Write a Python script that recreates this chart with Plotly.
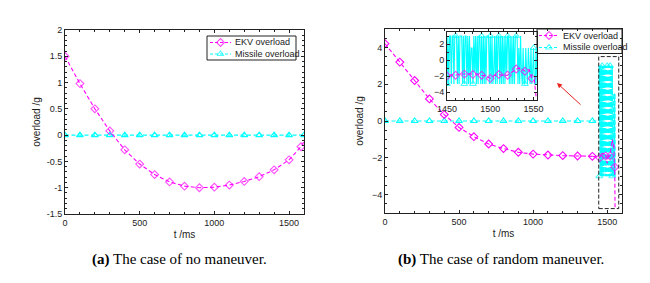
import plotly.graph_objects as go

# ---------------- data ----------------
# (a) no maneuver
a_ekv_t = [0, 100, 200, 300, 400, 500, 600, 700, 800, 900, 1000, 1100, 1200, 1300, 1400, 1500, 1580, 1600]
a_ekv_v = [1.5, 0.98, 0.5, 0.08, -0.28, -0.55, -0.75, -0.89, -0.97, -1.0, -0.99, -0.95, -0.88, -0.79, -0.66, -0.47, -0.22, -0.12]
a_mis_t = [0, 100, 200, 300, 400, 500, 600, 700, 800, 900, 1000, 1100, 1200, 1300, 1400, 1500, 1600]
a_mis_v = [0] * 17

# (b) random maneuver, smooth part
b_ekv_t = [0, 100, 200, 300, 400, 500, 600, 700, 800, 900, 1000, 1100, 1200, 1300, 1400]
b_ekv_v = [4.2, 3.2, 2.2, 1.2, 0.35, -0.35, -0.85, -1.25, -1.5, -1.7, -1.8, -1.85, -1.88, -1.9, -1.92]
b_mis_t = [0, 100, 200, 300, 400, 500, 600, 700, 800, 900, 1000, 1100, 1200, 1300, 1400]
b_mis_v = [0] * 15

# (b) end game part
e_ekv_t = [1400, 1450, 1455, 1460, 1465, 1470, 1475, 1480, 1485, 1490, 1495, 1500, 1505, 1510,
           1515, 1520, 1525, 1530, 1535, 1540, 1545, 1548, 1551, 1553]
e_ekv_v = [-1.92, -2.0, -1.85, -1.9, -1.75, -1.76, -1.8, -1.8, -1.75, -1.9, -2.0, -2.3, -1.9, -1.8,
           -1.95, -1.9, -1.5, -1.13, -1.0, -1.4, -1.2, -2.3, -2.5, -4.7]
e_mis_t = [1400] + list(range(1445, 1555))
e_mis_v = [0,
           0, 3, -3, 3, -3, -3, 3, -3, 3, 3,
           -3, 3, 3, -3, 3, 3, 3, -3, 3, -3,
           3, 3, 3, -3, 3, -3, 3, 3, -3, 3,
           -3, 3, -3, 1.5, 1.5, -3, 3, -1.5, 3, -3,
           3, -3, 3, 3, -3, 3, -3, 3, -3, 3,
           -3, 3, 3, 3, -3, 3, -3, 3, -3, -1.5,
           3, -3, 3, -3, 3, 3, -3, 3, -3, 3,
           -3, 3, -3, 3, -1.5, 3, 3, -3, 3, -3,
           3, -3, 3, -3, 3, 3, 3, -3, 1.5, -3,
           3, -1.5, -3, 1.5, -3, -3, 1.5, -1.5, -3, 1.5,
           -1.5, -3, 1.5, -3, -1.5, 1.5, -3, -3, 1.5, -3]

legend_names = ["EKV overload", "Missile overload"]
captions = ["<b>(a)</b> The case of no maneuver.", "<b>(b)</b> The case of random maneuver."]

# ---------------- style ----------------
MAG = "#FF00FF"
CYA = "#00FFFF"
DASH = "4px,2.5px"
INK = "#222"
TICKFONT = dict(family="Liberation Sans, Arial", size=9, color=INK)
TITLEFONT = dict(family="Liberation Sans, Arial", size=10, color=INK)
MS = 6

W, H = 650, 283
def px(x):
    return x / W
def py(y):
    return 1 - y / H

fig = go.Figure()

def mk(symbol, color, size):
    return dict(symbol=symbol, size=size, color=color, line=dict(color=color, width=1.1))

LINE_M = dict(color=MAG, dash=DASH, width=1.1)
LINE_C = dict(color=CYA, dash=DASH, width=1.1)

# ---- (a)
fig.add_trace(go.Scatter(x=a_mis_t, y=a_mis_v, mode="lines+markers", xaxis="x", yaxis="y",
                         line=LINE_C, marker=mk("triangle-up-open", CYA, MS)))
a_sizes = [MS] * (len(a_ekv_t) - 1) + [0]
fig.add_trace(go.Scatter(x=a_ekv_t, y=a_ekv_v, mode="lines+markers", xaxis="x", yaxis="y",
                         line=LINE_M, marker=mk("diamond-open", MAG, a_sizes)))

# ---- (b) main
fig.add_trace(go.Scatter(x=b_mis_t, y=b_mis_v, mode="lines+markers", xaxis="x2", yaxis="y2",
                         line=LINE_C, marker=mk("triangle-up-open", CYA, MS)))
main_mis_mark = {1447: MS, 1466: MS, 1500: MS, 1520: MS, 1534: MS}
fig.add_trace(go.Scatter(x=e_mis_t, y=e_mis_v, mode="lines+markers", xaxis="x2", yaxis="y2",
                         line=LINE_C,
                         marker=mk("triangle-up-open", CYA, [main_mis_mark.get(t, 0) for t in e_mis_t])))
fig.add_trace(go.Scatter(x=b_ekv_t, y=b_ekv_v, mode="lines+markers", xaxis="x2", yaxis="y2",
                         line=LINE_M, marker=mk("diamond-open", MAG, MS)))
main_ekv_mark = {1450: MS, 1490: MS, 1520: MS, 1551: MS}
fig.add_trace(go.Scatter(x=e_ekv_t, y=e_ekv_v, mode="lines+markers", xaxis="x2", yaxis="y2",
                         line=LINE_M,
                         marker=mk("diamond-open", MAG, [main_ekv_mark.get(t, 0) for t in e_ekv_t])))

# ---- (b) inset
ins_mis_mark = {t: MS for t in [1450, 1460, 1470, 1480, 1490, 1500, 1510, 1520, 1530, 1540, 1550]}
fig.add_trace(go.Scatter(x=e_mis_t, y=e_mis_v, mode="lines+markers", xaxis="x3", yaxis="y3",
                         line=dict(color=CYA, width=1.1),
                         marker=mk("triangle-up-open", CYA, [ins_mis_mark.get(t, 0) for t in e_mis_t])))
ins_ekv_mark = {t: MS for t in [1450, 1460, 1470, 1480, 1490, 1500, 1510, 1520, 1530, 1540, 1548]}
fig.add_trace(go.Scatter(x=e_ekv_t, y=e_ekv_v, mode="lines+markers", xaxis="x3", yaxis="y3",
                         line=LINE_M,
                         marker=mk("diamond-open", MAG, [ins_ekv_mark.get(t, 0) for t in e_ekv_t])))

# ---- hand-built legends (overlay axis in pixel units)
legends = [
    dict(bx=(207, 296), by=(36, 60), sx=(210, 231), tx=233, rows=(42.5, 54)),
    dict(bx=(537, 622), by=(29, 53.5), sx=(539, 559), tx=561, rows=(35.5, 47.5)),
]
shapes = []
annotations = []
for lg in legends:
    shapes.append(dict(type="rect", xref="paper", yref="paper",
                       x0=px(lg["bx"][0]), x1=px(lg["bx"][1]), y0=py(lg["by"][1]), y1=py(lg["by"][0]),
                       line=dict(color=INK, width=1), fillcolor="white", layer="below"))
    for name, ry, col, sym in zip(legend_names, lg["rows"], [MAG, CYA],
                                  ["diamond-open", "triangle-up-open"]):
        x0, x1 = lg["sx"]
        fig.add_trace(go.Scatter(x=[x0, (x0 + x1) / 2, x1], y=[ry, ry, ry], mode="lines+markers",
                                 xaxis="x4", yaxis="y4",
                                 line=dict(color=col, width=1.1, dash="3px,2px"),
                                 marker=mk(sym, col, [0, MS, 0]), hoverinfo="skip"))
        annotations.append(dict(x=px(lg["tx"]), y=py(ry), xref="paper", yref="paper",
                                xanchor="left", yanchor="middle", showarrow=False, text=name,
                                font=dict(family="Liberation Sans, Arial", size=9, color=INK)))

axcommon = dict(showline=True, linecolor=INK, linewidth=1, mirror="allticks", ticks="inside",
                ticklen=3, tickcolor=INK, tickfont=TICKFONT, showgrid=False, zeroline=False)

shapes.append(dict(type="rect", xref="x2", yref="y2", x0=1443, x1=1578, y0=-4.76, y1=3.5,
                   line=dict(color=INK, width=1, dash="4px,2px"), fillcolor="rgba(0,0,0,0)"))

annotations += [
    dict(x=px(557), y=py(83), xref="paper", yref="paper", ax=25, ay=23, text="",
         showarrow=True, arrowhead=2, arrowsize=1, arrowwidth=1, arrowcolor="#E8231E"),
    dict(x=px(179), y=py(259), xref="paper", yref="paper", showarrow=False,
         xanchor="center", yanchor="middle", text=captions[0],
         font=dict(family="Liberation Serif, Times New Roman", size=15, color="black")),
    dict(x=px(501), y=py(259), xref="paper", yref="paper", showarrow=False,
         xanchor="center", yanchor="middle", text=captions[1],
         font=dict(family="Liberation Serif, Times New Roman", size=15, color="black")),
]

fig.update_layout(
    width=W, height=H, autosize=False, showlegend=False,
    margin=dict(l=0, r=0, t=0, b=0, pad=0, autoexpand=False),
    paper_bgcolor="white", plot_bgcolor="rgba(0,0,0,0)",
    xaxis=dict(domain=[px(65), px(304)], range=[0, 1600], anchor="y",
               tickvals=[0, 500, 1000, 1500],
               minor=dict(dtick=100, ticks="inside", ticklen=2, tickcolor=INK),
               title=dict(text="t /ms", font=TITLEFONT, standoff=4), **axcommon),
    yaxis=dict(domain=[py(214), py(30)], range=[-1.5, 2], anchor="x",
               tickvals=[-1.5, -1, -0.5, 0, 0.5, 1, 1.5, 2],
               ticktext=["-1.5", "-1", "-0.5", "0", "0.5", "1", "1.5", "2"],
               minor=dict(dtick=0.1, ticks="inside", ticklen=2, tickcolor=INK),
               title=dict(text="overload /g", font=TITLEFONT, standoff=4), **axcommon),
    xaxis2=dict(domain=[px(385), px(622)], range=[0, 1600], anchor="y2",
                tickvals=[0, 500, 1000, 1500],
                minor=dict(dtick=100, ticks="inside", ticklen=2, tickcolor=INK),
                title=dict(text="t /ms", font=TITLEFONT, standoff=4), **axcommon),
    yaxis2=dict(domain=[py(213), py(29)], range=[-5, 5], anchor="x2",
                tickvals=[-4, -2, 0, 2, 4],
                minor=dict(dtick=0.5, ticks="inside", ticklen=2, tickcolor=INK),
                title=dict(text="overload /g", font=TITLEFONT, standoff=6), **axcommon),
    xaxis3=dict(domain=[px(447), px(537)], range=[1450, 1554], anchor="y3",
                tickvals=[1450, 1500, 1550],
                minor=dict(dtick=10, ticks="inside", ticklen=2, tickcolor=INK),
                **axcommon),
    yaxis3=dict(domain=[py(100), py(32)], range=[-5, 3.5], anchor="x3",
                tickvals=[-4, -2, 0, 2],
                minor=dict(dtick=1, ticks="inside", ticklen=2, tickcolor=INK),
                **axcommon),
    xaxis4=dict(domain=[0, 1], range=[0, W], anchor="y4", visible=False, fixedrange=True),
    yaxis4=dict(domain=[0, 1], range=[H, 0], anchor="x4", visible=False, fixedrange=True),
    shapes=shapes,
    annotations=annotations,
)

fig.write_html("out.html", config={"displayModeBar": False},
               post_script="document.body.style.margin='0px';document.body.style.padding='0px';")
